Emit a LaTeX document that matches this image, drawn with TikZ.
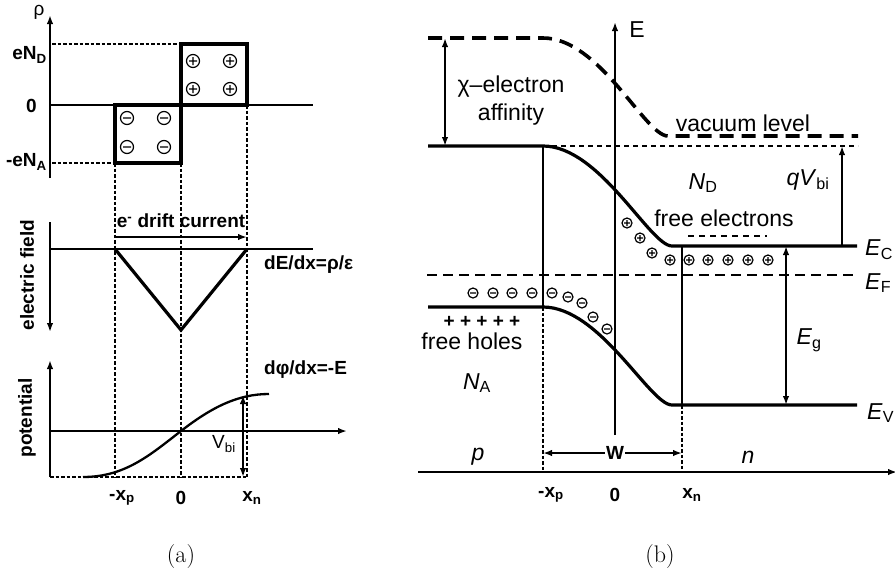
\documentclass[tikz,border=0pt]{standalone}
\usepackage{fontspec}
\setsansfont{Liberation Sans}
\usepackage{xcolor}
\usepackage{tikz}
\tikzset{>=latex}
\usetikzlibrary{
    positioning, % relative placement
    arrows.meta, % arrow tips
    calc % coordinate calculations
}

\begin{document}
\begin{tikzpicture}[x=1pt,y=-1pt,>={Latex[length=9pt,width=6.5pt]}]
    \useasboundingbox (0,0) rectangle (895,574);
    % styles
    \tikzstyle{fine}  = [draw=black, line width=1.2pt]
    \tikzstyle{mid}   = [draw=black, line width=1.9pt]
    \tikzstyle{heavy} = [draw=black, line width=3.2pt]
    \tikzstyle{axis}  = [draw=black, line width=1.9pt]
    \tikzstyle{guide} = [draw=black, line width=1.4pt, dash pattern=on 3.5pt off 2pt]
    \tikzstyle{vacuum}= [draw=black, line width=3.6pt, dash pattern=on 14pt off 8pt]
    \tikzstyle{fermi} = [draw=black, line width=2.8pt, dash pattern=on 10pt off 6pt]
    \tikzstyle{level} = [draw=black, line width=1.8pt, dash pattern=on 5pt off 4pt]
    \tikzstyle{lbl}   = [font=\sffamily\bfseries\fontsize{19}{22}\selectfont, inner sep=1pt]
    \tikzstyle{txt}   = [font=\sffamily\fontsize{23}{28}\selectfont, inner sep=1pt]
    \tikzstyle{subcap}= [font=\fontsize{24}{28}\selectfont]

    % ---- (a) charge density ----
    \draw[axis,->] (50,178) -- (50,15);
    \node[font=\sffamily\fontsize{19}{22}\selectfont] (rho) at (39,12) {ρ};
    \node[lbl, anchor=east] (eND) at (48,55) {eN\textsubscript{D}};
    \node[lbl, anchor=east] (zeroRho) at (38,106) {0};
    \node[lbl, anchor=east] (eNA) at (48,162) {-eN\textsubscript{A}};
    \draw[fine] (50,105) -- (313,105);
    \draw[guide] (52,44) -- (181,44);
    \draw[guide] (52,163) -- (115,163);
    \draw[heavy] (115,105) rectangle (181,163);
    \draw[heavy] (181,44) rectangle (247,105);
    \foreach \x/\y in {127/118, 164/118, 127/147, 164/147}
        \draw[fine] (\x,\y) circle (6.5pt) (\x-4,\y) -- (\x+4,\y);
    \foreach \x/\y in {193/61, 230/61, 193/89, 230/89}
        \draw[fine] (\x,\y) circle (6.5pt) (\x-4,\y) -- (\x+4,\y) (\x,\y-4) -- (\x,\y+4);
    % guides through all three plots
    \draw[guide] (115,163) -- (115,477);
    \draw[guide] (181,163) -- (181,477);
    \draw[guide] (247,105) -- (247,477);

    % ---- (a) electric field ----
    \draw[axis,->] (50,222) -- (50,332);
    \node[lbl, rotate=90] (efield) at (27,275) {electric field};
    \draw[fine] (50,249) -- (313,249);
    \draw[heavy] (115,249) -- (181,330) -- (247,249);
    \coordinate (driftL) at (115,237);
    \coordinate (driftR) at (247,237);
    \draw[mid,->] (driftL) -- (driftR);
    \node[lbl] (drift) at (181,221) {e\textsuperscript{-} drift current};
    \node[lbl, anchor=west] (dEdx) at (263,265) {dE/dx=ρ/ε};

    % ---- (a) potential ----
    \draw[axis,->] (50,477) -- (50,360);
    \node[lbl, rotate=90] (pot) at (27,418) {potential};
    \draw[axis,->] (50,431) -- (347,431);
    \draw[guide] (50,477) -- (247,477);
    \draw[mid, line width=2.3pt] (83,477) .. controls (125,477) and (150,455) .. (181,431)
               .. controls (212,407) and (238,394) .. (269,394);
    \coordinate (vbiTop) at (243,395);
    \coordinate (vbiBot) at (243,477);
    \draw[mid,<->] (vbiTop) -- (vbiBot);
    \node[font=\sffamily\fontsize{19}{22}\selectfont] (vbi) at (224,444) {V\textsubscript{bi}};
    \node[lbl, anchor=west] (dphi) at (263,370) {dφ/dx=-E};
    \node[lbl] (xpA) at (122,498) {-x\textsubscript{p}};
    \node[lbl] (zeroA) at (181,498) {0};
    \node[lbl] (xnA) at (252,498) {x\textsubscript{n}};
    \node[subcap] (capA) at (181,557) {(a)};

    % ---- (b) band diagram ----
    \draw[axis,->] (615,435) -- (615,22);
    \node[txt] (E) at (637,30) {E};
    \draw[vacuum] (428,38) -- (543,38) .. controls (600,38) and (645,136) .. (668,136) -- (858,136);
    \draw[level] (543,146) -- (858,146);
    \draw[fermi] (427,275) -- (853,275);
    \draw[heavy] (428,146) -- (543,146) .. controls (600,146) and (650,246) .. (672,246) -- (857,246);
    \draw[heavy] (428,307) -- (543,307) .. controls (600,307) and (650,405) .. (672,405) -- (857,405);
    % depletion edges
    \draw[fine] (543,146) -- (543,307);
    \draw[guide] (543,307) -- (543,472);
    \draw[fine] (682,246) -- (682,405);
    \draw[guide] (682,405) -- (682,472);
    % ions
    \foreach \x/\y in {627/223, 640/238, 652/253, 670/260, 689/260, 708/260, 728/260, 748/260, 768/260}
        \draw[fine] (\x,\y) circle (5pt) (\x-3,\y) -- (\x+3,\y) (\x,\y-3) -- (\x,\y+3);
    \foreach \x/\y in {473/293, 493/293, 512/293, 532/293, 552/293, 568/297, 582/303, 593/317, 607/329}
        \draw[fine] (\x,\y) circle (5pt) (\x-3,\y) -- (\x+3,\y);
    % arrows
    \coordinate (chiTop) at (445,38);
    \coordinate (chiBot) at (445,146);
    \draw[mid,<->] (chiTop) -- (chiBot);
    \node[txt, align=center] (chi) at (511,101) {χ–electron\\affinity};
    \node[txt] (vac) at (743,123) {vacuum level};
    \coordinate (qvTop) at (842,146);
    \coordinate (qvBot) at (842,246);
    \draw[mid,->] (qvBot) -- (qvTop);
    \node[txt] (qV) at (808,180) {\textit{qV}\textsubscript{bi}};
    \coordinate (egTop) at (786,246);
    \coordinate (egBot) at (786,405);
    \draw[mid,<->] (egTop) -- (egBot);
    \node[txt] (Eg) at (809,340) {\textit{E}\textsubscript{g}};
    \node[txt] (ND) at (703,183) {\textit{N}\textsubscript{D}};
    \node[txt] (elec) at (724,218) {free electrons};
    \draw[level, line width=2pt, dash pattern=on 6pt off 5pt] (688,236) -- (767,236);
    \node[lbl] (plus) at (482,322) {+ + + + +};
    \node[txt] (holes) at (472,341) {free holes};
    \node[txt] (NA) at (477,383) {\textit{N}\textsubscript{A}};
    \node[txt, anchor=west] (EC) at (864,250) {\textit{E}\textsubscript{C}};
    \node[txt, anchor=west] (EF) at (864,283) {\textit{E}\textsubscript{F}};
    \node[txt, anchor=west] (EV) at (866,413) {\textit{E}\textsubscript{V}};
    % x axis
    \draw[axis,->] (418,472) -- (897,472);
    \node[txt] (p) at (478,457) {\textit{p}};
    \node[txt] (n) at (748,457) {\textit{n}};
    \coordinate (wL) at (543,453);
    \coordinate (wR) at (682,453);
    \node[lbl, fill=white] (W) at (615,453) {W};
    \draw[mid,->] (W) -- (wL);
    \draw[mid,->] (W) -- (wR);
    \node[lbl] (xpB) at (551,495) {-x\textsubscript{p}};
    \node[lbl] (zeroB) at (615,495) {0};
    \node[lbl] (xnB) at (692,495) {x\textsubscript{n}};
    \node[subcap] (capB) at (660,557) {(b)};
\end{tikzpicture}
\end{document}
